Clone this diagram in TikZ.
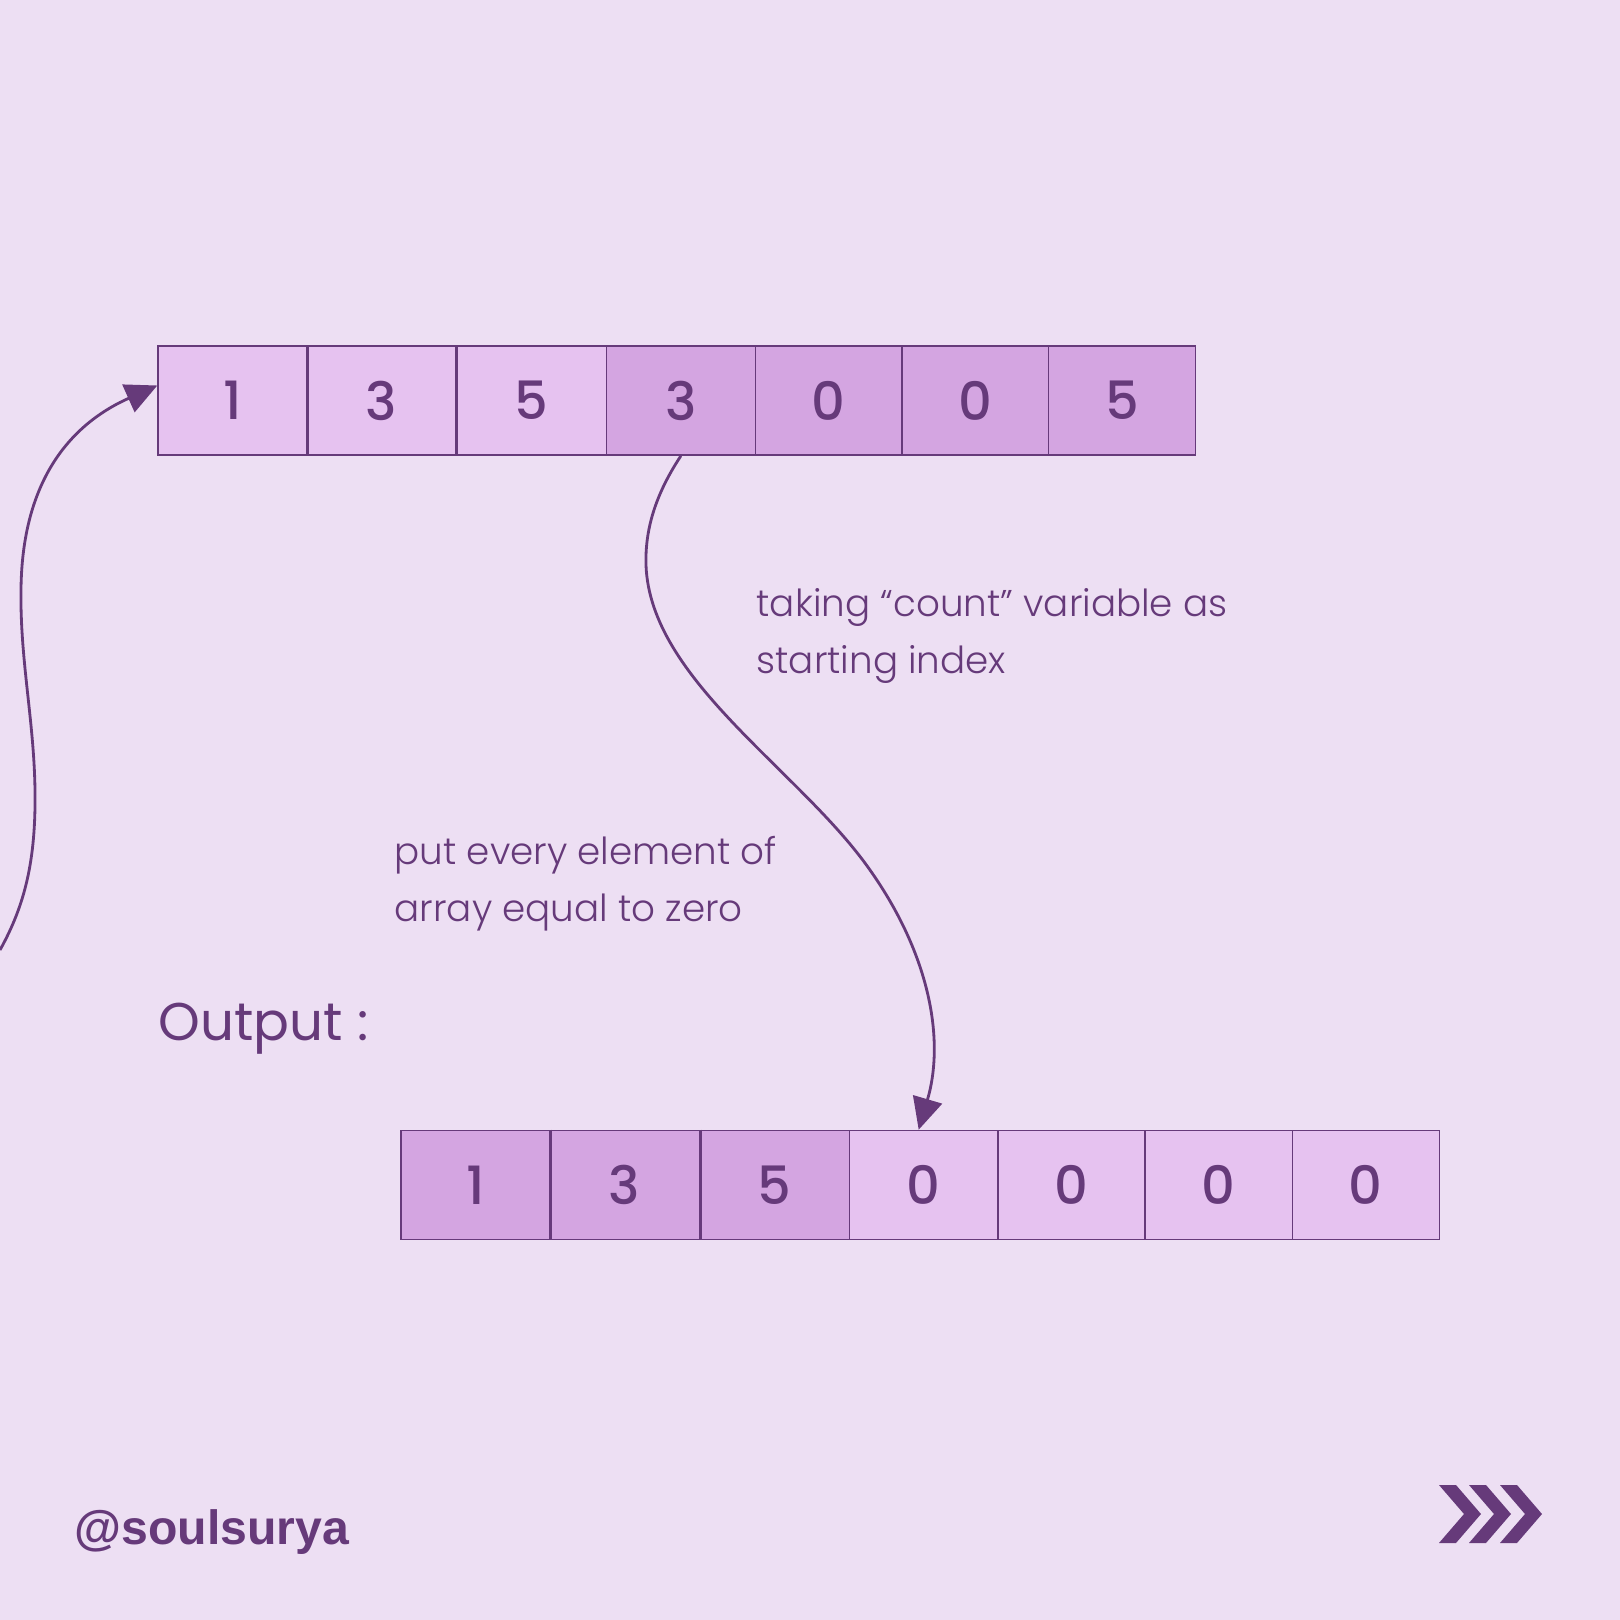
\documentclass[tikz,border=0pt]{standalone}
\usepackage{fontspec}
\setmainfont{Poppins}
\newfontfamily\plight{Poppins}[UprightFont={* Light}]
\newfontfamily\pmed{Poppins}[UprightFont={* Medium}]
\newfontfamily\handle{Liberation Sans}
\usetikzlibrary{arrows.meta}
\definecolor{bg}{HTML}{EDDFF3}
\definecolor{lightc}{HTML}{E6C2F0}
\definecolor{darkc}{HTML}{D4A5E1}
\definecolor{ink}{HTML}{663A7A}
\begin{document}
\begin{tikzpicture}[x=0.01cm,y=-0.01cm,
  cell/.style={draw=ink, line width=0.45pt, minimum height=1.09cm, inner sep=0pt, text=ink, font=\pmed\fontsize{15}{18}\selectfont},
  lightcell/.style={cell, fill=lightc},
  darkcell/.style={cell, fill=darkc},
  sep/.style={draw=ink, line width=0.8pt},
  conn/.style={draw=ink, line width=0.8pt, -{Triangle[length=9pt,width=8.5pt]}},
  lbl/.style={text=ink, anchor=base west, inner sep=0pt, font=\plight\fontsize{10.6}{12}\selectfont}]
\fill[bg] (0,0) rectangle (1620,1620);
\useasboundingbox (0,0) rectangle (1620,1620);
% top array
\foreach \l/\r/\v/\s [count=\i] in {158.1/306.9/1/lightcell, 306.9/455.6/3/lightcell, 455.6/606.5/5/lightcell, 606.5/755.3/3/darkcell, 755.3/902.0/0/darkcell, 902.0/1048.7/0/darkcell, 1048.7/1195.4/5/darkcell} {
  \node[\s, minimum width={(\r-\l)*0.01cm}] (t\i) at ({(\l+\r)/2},400.5) {\v};
}
\draw[sep] (t1.north east) -- (t1.south east);
\draw[sep] (t2.north east) -- (t2.south east);
% bottom array
\foreach \l/\r/\v/\s [count=\i] in {400.9/549.7/1/darkcell, 549.7/699.5/3/darkcell, 699.5/849.3/5/darkcell, 849.3/998.1/0/lightcell, 998.1/1144.8/0/lightcell, 1144.8/1292.5/0/lightcell, 1292.5/1439.3/0/lightcell} {
  \node[\s, minimum width={(\r-\l)*0.01cm}] (b\i) at ({(\l+\r)/2},1185) {\v};
}
\draw[sep] (b1.north east) -- (b1.south east);
\draw[sep] (b2.north east) -- (b2.south east);
% labels
\node[lbl] (l1) at (756,616) {taking “count” variable as};
\node[lbl] (l2) at (756,673) {starting index};
\node[lbl] (l3) at (394,864) {put every element of};
\node[lbl] (l4) at (394,921) {array equal to zero};
\node[text=ink, anchor=base west, inner sep=0pt, font=\fontsize{15.1}{18}\selectfont] (out) at (158,1040) {Output :};
\node[text=ink, anchor=base west, inner sep=0pt, font=\handle\bfseries\fontsize{13.7}{16}\selectfont] (hnd) at (74,1544) {@soulsurya};
% connectors
\coordinate (s1) at (0,950);
\draw[conn] (s1) .. controls (25,905) and (36,860) .. (35,790)
  .. controls (34,720) and (20,660) .. (21,590)
  .. controls (22,470) and (80,420) .. ([yshift=0.15cm]t1.west);
\draw[conn] (t4.south) .. controls (655,495) and (645,530) .. (646,565)
  .. controls (650,680) and (800,770) .. (870,870)
  .. controls (930,955) and (945,1040) .. ([xshift=-0.05cm]b4.north);
% chevrons
\foreach \x in {1439,1469,1500} {
  \fill[ink] (\x,1485) -- (\x+17,1485) -- (\x+42,1514) -- (\x+17,1543) -- (\x,1543) -- (\x+25,1514) -- cycle;
}
\end{tikzpicture}
\end{document}
